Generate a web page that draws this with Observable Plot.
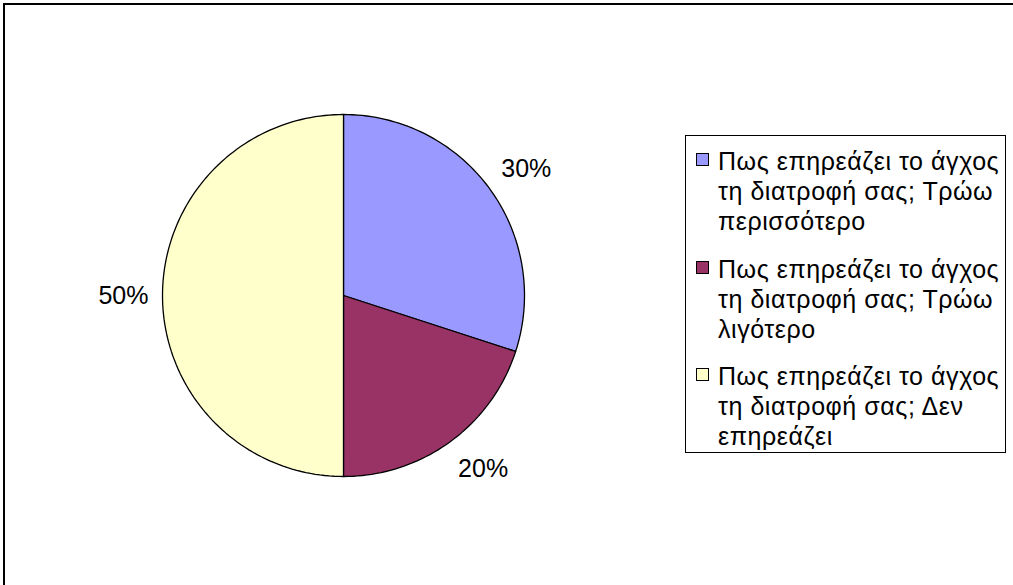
<!DOCTYPE html>
<html>
<head>
<meta charset="utf-8">
<script src="https://cdn.jsdelivr.net/npm/d3@7"></script>
<script src="https://cdn.jsdelivr.net/npm/@observablehq/plot@0.6"></script>
<style>
  html, body { margin: 0; padding: 0; background: #fff; }
  #wrap { position: relative; width: 1013px; height: 585px; overflow: hidden; font-family: "Liberation Sans", Arial, sans-serif; }
  #frame { position: absolute; left: 3px; top: 3px; width: 1020px; height: 600px; border-left: 2px solid #000; border-top: 2px solid #000; }
  #chart { position: absolute; left: 0; top: 0; }
  #legend { position: absolute; left: 685px; top: 135px; width: 321px; height: 318px; border: 1.5px solid #000; box-sizing: border-box; background: #fff; }
  .item { position: absolute; left: 10px; width: 305px; }
  .swatch { position: absolute; left: 0px; top: 7px; width: 13px; height: 13px; border: 1.5px solid #000; box-sizing: border-box; }
  .txt { position: absolute; left: 22px; top: 0; width: 296px; font-size: 25px; letter-spacing: 0.55px; line-height: 30px; color: #000; white-space: normal; }
</style>
</head>
<body>
<div id="wrap">
  <div id="frame"></div>
  <div id="chart"></div>
  <div id="legend"></div>
</div>
<script>
// Answers to "how does stress affect your diet?"
const categories = [
  "Πως επηρεάζει το άγχος τη διατροφή σας; Τρώω περισσότερο",
  "Πως επηρεάζει το άγχος τη διατροφή σας; Τρώω λιγότερο",
  "Πως επηρεάζει το άγχος τη διατροφή σας; Δεν επηρεάζει"
];
const shares = [30, 20, 50];
const colors = ["#9999FF", "#993366", "#FFFFCC"];

const W = 1013, H = 585;
const R = 181;             // pie radius in pixels
const cx = 343, cy = 295;  // pie centre in pixels

// Slice angles, clockwise from 12 o'clock
const arcs = d3.pie().sort(null).value(d => d.value)(
  categories.map((label, i) => ({label, value: shares[i]}))
);

// Each slice as a closed polygon in unit-radius coordinates
const slicePts = arcs.flatMap(a => {
  const steps = Math.max(2, Math.ceil((a.endAngle - a.startAngle) / (2 * Math.PI) * 240));
  const pts = [{label: a.data.label, x: 0, y: 0}];
  for (let k = 0; k <= steps; k++) {
    const t = a.startAngle + (a.endAngle - a.startAngle) * k / steps;
    pts.push({label: a.data.label, x: Math.sin(t), y: Math.cos(t)});
  }
  pts.push({label: a.data.label, x: 0, y: 0});
  return pts;
});

// Percentage labels: the text box sits just outside the slice's mid-angle,
// growing away from the pie (start-anchored on the right, end-anchored on the left)
const rx = 195 / R, ry = 215 / R;
const labelPts = arcs.map(a => {
  const m = (a.startAngle + a.endAngle) / 2;
  return {x: rx * Math.sin(m), y: ry * Math.cos(m), right: Math.sin(m) >= 0, text: a.data.value + "%"};
});

const chart = Plot.plot({
  width: W,
  height: H,
  margin: 0,
  style: {background: "transparent", fontFamily: "'Liberation Sans', Arial, sans-serif"},
  x: {domain: [-cx / R, (W - cx) / R], axis: null},
  y: {domain: [-(H - cy) / R, cy / R], axis: null},
  color: {domain: categories, range: colors},
  marks: [
    Plot.line(slicePts, {x: "x", y: "y", z: "label", fill: "label", stroke: "#000", strokeWidth: 1.3, curve: "linear", strokeLinejoin: "round"}),
    Plot.text(labelPts, {filter: d => d.right, x: "x", y: "y", text: "text", textAnchor: "start", fontSize: 25, fill: "#000"}),
    Plot.text(labelPts, {filter: d => !d.right, x: "x", y: "y", text: "text", textAnchor: "end", fontSize: 25, fill: "#000"})
  ]
});
document.getElementById("chart").appendChild(chart);

// Legend
const legend = document.getElementById("legend");
categories.forEach((label, i) => {
  const item = document.createElement("div");
  item.className = "item";
  item.style.top = (10 + i * 107.5) + "px";
  const sw = document.createElement("div");
  sw.className = "swatch";
  sw.style.background = colors[i];
  const tx = document.createElement("div");
  tx.className = "txt";
  tx.textContent = label;
  item.appendChild(sw);
  item.appendChild(tx);
  legend.appendChild(item);
});
</script>
</body>
</html>
